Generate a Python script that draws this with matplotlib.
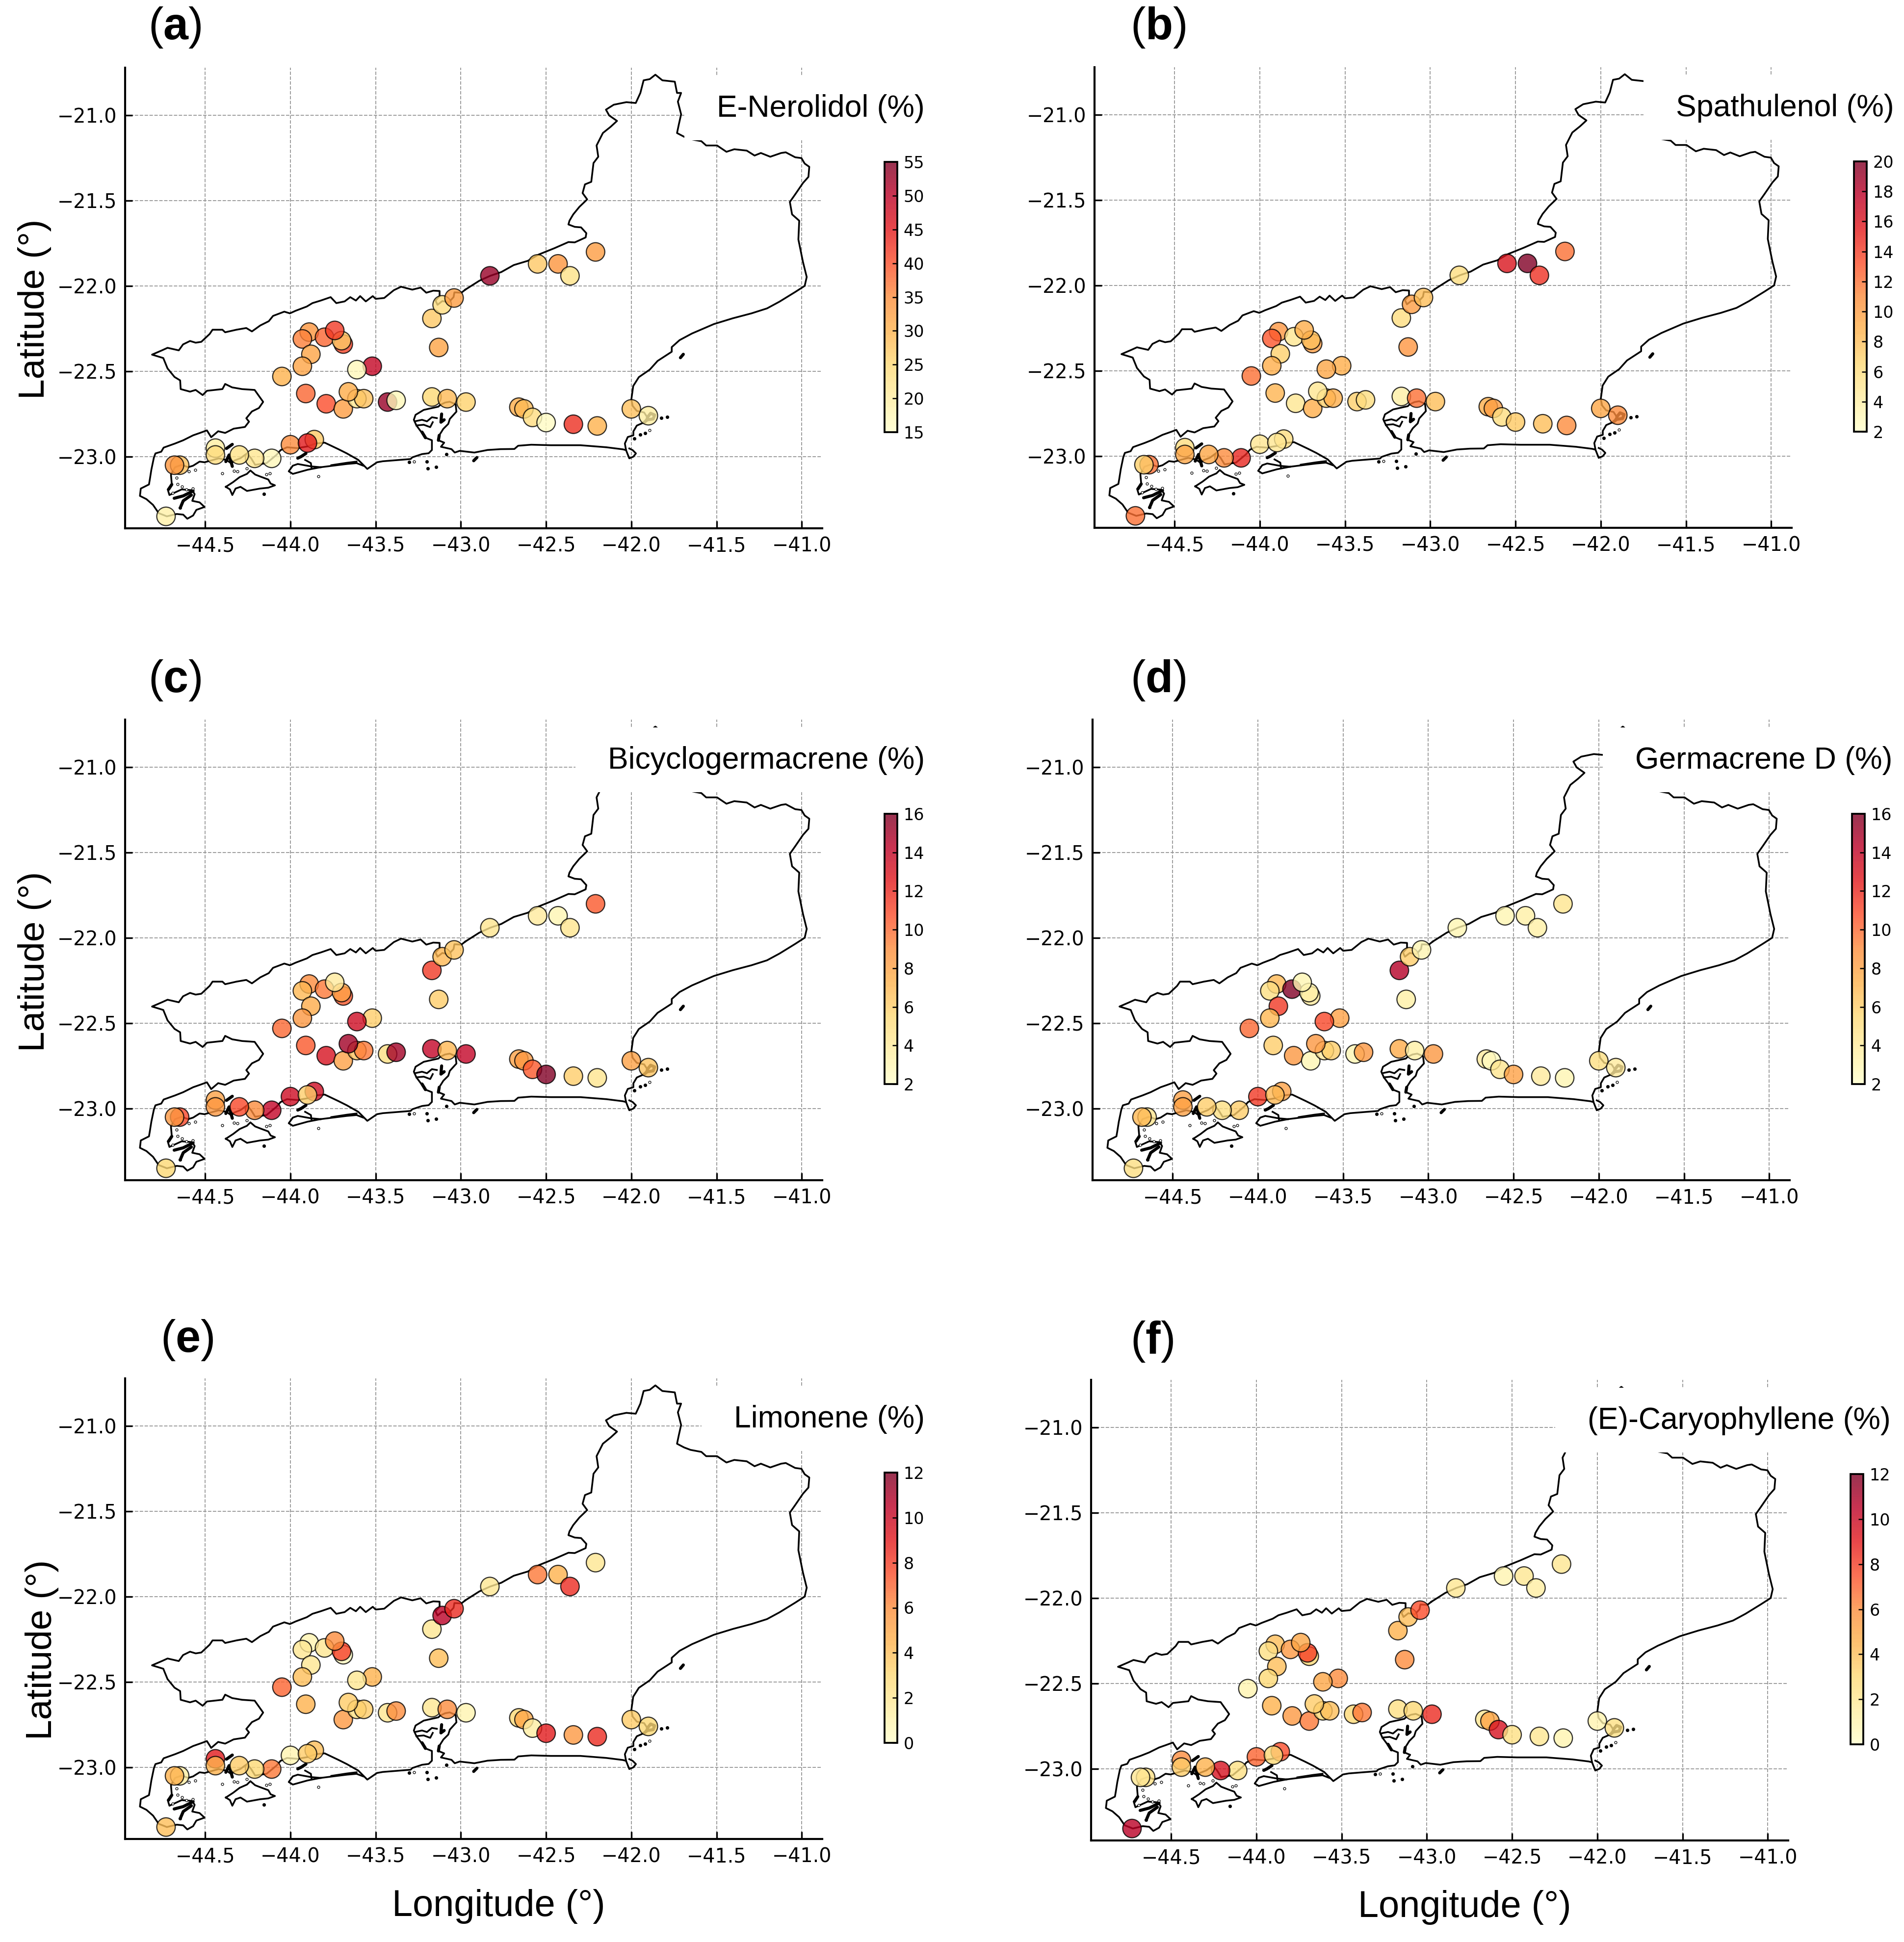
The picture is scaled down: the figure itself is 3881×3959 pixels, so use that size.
import numpy as np
import matplotlib
matplotlib.use("Agg")
import matplotlib.pyplot as plt
from matplotlib.patches import Rectangle
from matplotlib.transforms import IdentityTransform

W, H = 3881, 3959

plt.rcParams['mathtext.fontset'] = 'custom'
plt.rcParams['mathtext.rm'] = 'Liberation Sans'
plt.rcParams['mathtext.bf'] = 'Liberation Sans:bold'

# sampling sites
site_lon = [-42.83, -42.55, -42.43, -42.36, -42.21, -43.04, -43.11, -43.17, -43.13, -43.74,
            -43.89, -43.93, -43.80, -43.70, -43.69, -43.88, -43.93, -44.05, -43.61, -43.52,
            -43.91, -43.79, -43.69, -43.66, -43.61, -43.57, -43.43, -43.38, -43.17, -43.08,
            -42.97, -42.66, -42.63, -42.58, -42.50, -42.34, -42.20, -42.00, -41.90, -43.86,
            -43.90, -44.00, -44.11, -44.21, -44.30, -44.44, -44.44, -44.65, -44.68, -44.73]
site_lat = [-21.94, -21.87, -21.87, -21.94, -21.80, -22.07, -22.11, -22.19, -22.36, -22.26,
            -22.27, -22.31, -22.30, -22.32, -22.34, -22.40, -22.47, -22.53, -22.49, -22.47,
            -22.63, -22.69, -22.72, -22.62, -22.66, -22.66, -22.68, -22.67, -22.65, -22.66,
            -22.68, -22.71, -22.72, -22.77, -22.80, -22.81, -22.82, -22.72, -22.76, -22.90,
            -22.92, -22.93, -23.01, -23.01, -22.99, -22.95, -22.99, -23.05, -23.05, -23.35]

nerolidol = [53, 27, 34, 23, 33, 33, 24, 27, 32, 42,
             34, 36, 38, 27, 41, 32, 32, 30, 17, 49,
             38, 40, 33, 31, 22, 28, 53, 17, 25, 29,
             26, 31, 29, 24, 16, 43, 30, 28, 20, 27,
             45, 35, 17, 22, 23, 20, 24, 28, 34, 19]
spathulenol = [6, 16, 20, 14.5, 12, 8, 10, 6, 10.5, 9,
               10.5, 13, 5, 8, 10, 7, 9, 12, 9.5, 9,
               8.5, 5, 9, 5, 7, 9, 7, 6, 4, 12,
               8, 9, 10, 6, 7.5, 8, 11, 9.5, 11, 6,
               5, 5, 15, 11, 9.5, 6, 9.5, 12, 7, 12]
bicyclogermacrene = [4.5, 4, 3, 4.5, 10.5, 6.5, 7, 11.5, 6, 4,
                     9, 7, 9.5, 8, 10.5, 7.5, 8.5, 10, 13.5, 6,
                     10.5, 13, 8, 15, 6.5, 9.5, 5, 15, 14, 7,
                     14, 8, 8.5, 10.5, 16, 6, 4.5, 8, 6.5, 13.5,
                     6, 13.5, 14, 9, 11, 8, 8.5, 11, 8.5, 5.5]
germacrene_d = [3, 3, 3.5, 3.5, 4.5, 3, 6, 14.5, 3.5, 3,
                7, 5, 16, 3.5, 4, 11.5, 7, 10, 11, 8,
                6, 8.5, 3, 8.5, 4, 6, 3, 8.5, 7.5, 3.5,
                8.5, 4, 2.5, 4.5, 8, 4, 3, 5, 4, 8,
                7, 11.5, 6, 5, 6, 8, 8, 4.5, 7, 5]
limonene = [2, 6.5, 4.5, 8.5, 2, 8.5, 10.5, 2, 4, 6,
            1, 2, 2, 8, 0.5, 2, 4, 7, 2, 4.5,
            4.5, np.nan, 5.5, 3.5, 2.5, 3.5, 2, 6, 2, 6,
            1, 3, 5, 1.5, 9, 5.5, 8.5, 3.5, 3, 4,
            3.5, 1, 6.5, 3, 3.5, 9, 4.5, 1.5, 4.5, 4]
caryophyllene = [2, 1, 2, 1.5, 2, 7.5, 4, 4.5, 6, 5,
                 4, 2.5, 5.5, 8, 3, 4, 3, 1, 5, 6,
                 4.5, 5.5, 6.5, 3.5, 3, 4, 3, 6.5, 2.5, 3,
                 8.5, 2, 5, 9.5, 2.5, 2, 1, 1, 2.5, 7.5,
                 3, 7, 2.5, 9.5, 4.5, 6, 3.5, 2.5, 2, 10.5]

# sites are painted in this order, later ones on top (1-based)
draw_order = [1, 2, 3, 4, 5, 8, 7, 6, 9, 11, 12, 13, 15, 14, 10, 16, 17, 18, 20, 19,
              21, 22, 23, 25, 26, 24, 27, 28, 29, 30, 31, 32, 33, 34, 35, 36, 37, 38, 39, 40,
              42, 41, 43, 44, 45, 46, 47, 48, 49, 50]

# state outline, in three stretches
ne_lon = [-42.974, -42.892, -42.828, -42.763, -42.690, -42.607, -42.543, -42.451, -42.369, -42.332,
          -42.268, -42.264, -42.295, -42.332, -42.369, -42.363, -42.341, -42.305, -42.259, -42.286,
          -42.272, -42.235, -42.228, -42.222, -42.194, -42.204, -42.167, -42.121, -42.084, -42.130,
          -42.149, -42.103, -42.029, -41.974, -41.947, -41.928, -41.892, -41.859, -41.818, -41.745,
          -41.732, -41.708, -41.727, -41.708, -41.721, -41.732, -41.690, -41.653, -41.589, -41.561,
          -41.497, -41.442, -41.396, -41.323, -41.277, -41.240, -41.185, -41.121, -41.094, -41.039,
          -41.002, -40.983, -40.956, -40.961, -40.993, -41.039, -41.070, -41.057, -41.015, -41.020,
          -40.993, -40.971, -40.983, -41.039, -41.130, -41.204, -41.295, -41.405, -41.516, -41.644,
          -41.717, -41.763, -41.763, -41.846, -41.892, -41.956, -41.989, -42.000, -41.992, -41.968,
          -41.925, -41.906, -41.925, -41.968, -41.988, -41.988, -42.021, -42.038, -42.031, -42.050,
          -42.146, -42.299, -42.472, -42.587, -42.664]
ne_lat = [-22.021, -21.969, -21.940, -21.918, -21.877, -21.852, -21.815, -21.778, -21.742, -21.744,
          -21.715, -21.690, -21.656, -21.653, -21.639, -21.617, -21.580, -21.536, -21.492, -21.455,
          -21.404, -21.389, -21.330, -21.279, -21.242, -21.176, -21.103, -21.066, -21.032, -21.000,
          -20.966, -20.937, -20.922, -20.927, -20.868, -20.794, -20.787, -20.761, -20.794, -20.802,
          -20.868, -20.868, -20.919, -20.993, -21.051, -21.103, -21.125, -21.139, -21.151, -21.176,
          -21.176, -21.213, -21.198, -21.206, -21.235, -21.220, -21.242, -21.220, -21.216, -21.245,
          -21.250, -21.282, -21.301, -21.360, -21.396, -21.463, -21.507, -21.580, -21.617, -21.727,
          -21.859, -21.947, -21.999, -22.035, -22.091, -22.131, -22.160, -22.189, -22.223, -22.278,
          -22.317, -22.358, -22.385, -22.439, -22.490, -22.534, -22.586, -22.665, -22.703, -22.732,
          -22.741, -22.770, -22.799, -22.818, -22.852, -22.875, -22.885, -22.923, -22.962, -22.957,
          -22.945, -22.933, -22.933, -22.930, -22.936]
south_lon = [-42.686, -42.767, -42.844, -42.921, -43.007, -43.036, -43.055, -43.117, -43.098, -43.132,
             -43.127, -43.103, -43.074, -43.065, -43.026, -43.031, -43.065, -43.093, -43.122, -43.132,
             -43.218, -43.266, -43.276, -43.261, -43.232, -43.208, -43.170, -43.170, -43.170, -43.189,
             -43.228, -43.285, -43.295, -43.458, -43.492, -43.549, -43.602, -43.669, -43.717, -43.799,
             -43.852, -43.900, -43.960, -44.020, -44.058, -44.082, -44.140, -44.207, -44.231, -44.255,
             -44.293, -44.331, -44.346, -44.375, -44.420, -44.504, -44.533, -44.571, -44.600, -44.638,
             -44.677, -44.701, -44.696, -44.720, -44.710, -44.677, -44.638, -44.576, -44.562, -44.576,
             -44.533, -44.504, -44.552, -44.571, -44.605, -44.629, -44.667, -44.725, -44.773, -44.806,
             -44.845, -44.883, -44.878, -44.830, -44.825, -44.816, -44.801, -44.792, -44.758, -44.744,
             -44.677, -44.629, -44.571]
south_lat = [-22.955, -22.956, -22.961, -22.976, -22.966, -22.976, -22.956, -22.942, -22.918, -22.904,
             -22.875, -22.837, -22.808, -22.779, -22.736, -22.693, -22.678, -22.683, -22.697, -22.707,
             -22.726, -22.755, -22.784, -22.817, -22.856, -22.889, -22.904, -22.942, -22.961, -22.980,
             -22.985, -23.004, -23.014, -23.027, -23.033, -23.072, -23.019, -22.981, -22.957, -22.918,
             -22.923, -22.940, -22.950, -22.945, -22.962, -22.990, -23.038, -23.048, -23.009, -22.981,
             -23.009, -23.024, -23.040, -23.020, -23.010, -23.033, -23.029, -23.053, -23.062, -23.048,
             -23.062, -23.105, -23.163, -23.192, -23.225, -23.210, -23.192, -23.197, -23.220, -23.259,
             -23.268, -23.295, -23.312, -23.345, -23.364, -23.340, -23.336, -23.350, -23.331, -23.283,
             -23.249, -23.230, -23.187, -23.163, -23.134, -23.077, -23.005, -22.981, -22.971, -22.947,
             -22.923, -22.904, -22.875]
west_lon = [-44.531, -44.490, -44.465, -44.424, -44.383, -44.333, -44.267,
            -44.243, -44.259, -44.226, -44.185, -44.160, -44.185, -44.210, -44.284, -44.342, -44.383,
            -44.399, -44.490, -44.515, -44.556, -44.589, -44.644, -44.647, -44.680, -44.721, -44.746,
            -44.812, -44.754, -44.721, -44.655, -44.630, -44.589, -44.556, -44.523, -44.474, -44.457,
            -44.399, -44.383, -44.317, -44.259, -44.226, -44.177, -44.127, -44.102, -44.036, -44.003,
            -43.970, -43.904, -43.871, -43.822, -43.764, -43.731, -43.682, -43.649, -43.616, -43.591,
            -43.558, -43.517, -43.500, -43.450, -43.393, -43.351, -43.285, -43.236, -43.203, -43.162,
            -43.125, -43.125, -43.149, -43.137, -43.109, -43.071, -43.043, -43.038, -42.997, -42.974]
west_lat = [-22.861, -22.846, -22.886, -22.851, -22.861, -22.836, -22.826,
            -22.795, -22.775, -22.735, -22.715, -22.679, -22.644, -22.609, -22.604, -22.594, -22.574,
            -22.604, -22.614, -22.639, -22.609, -22.619, -22.604, -22.553, -22.533, -22.483, -22.422,
            -22.402, -22.377, -22.362, -22.377, -22.342, -22.322, -22.332, -22.327, -22.281, -22.256,
            -22.256, -22.271, -22.256, -22.246, -22.266, -22.231, -22.206, -22.175, -22.150, -22.160,
            -22.145, -22.120, -22.100, -22.085, -22.065, -22.100, -22.090, -22.065, -22.085, -22.059,
            -22.090, -22.059, -22.075, -22.070, -22.024, -22.004, -22.021, -22.009, -22.039, -22.027,
            -22.029, -22.059, -22.085, -22.110, -22.088, -22.095, -22.065, -22.037, -22.039, -22.021]

# smaller coast pieces: restinga, Ilha Grande, lagoon
coast_pieces = [
    ([-43.573, -43.612, -43.669, -43.823, -43.900, -43.986, -44.010, -43.986, -43.957, -43.880, -43.823],
     [-23.053, -23.038, -23.043, -23.062, -23.077, -23.101, -23.086, -23.053, -23.043, -23.057, -23.062]),
    ([-43.914, -43.880, -43.876], [-23.019, -23.038, -23.067]),
    ([-43.612, -43.669, -43.760], [-23.029, -23.036, -23.050]),
    ([-44.379, -44.336, -44.298, -44.255, -44.235, -44.207, -44.168, -44.130, -44.116, -44.091, -44.130,
      -44.178, -44.255, -44.293, -44.322, -44.341, -44.355, -44.379],
     [-23.177, -23.149, -23.120, -23.101, -23.081, -23.105, -23.120, -23.134, -23.158, -23.168, -23.182,
      -23.187, -23.201, -23.177, -23.187, -23.225, -23.192, -23.177]),
    ([-42.031, -42.012, -41.988, -41.973, -41.992, -42.012], [-22.962, -23.010, -23.000, -22.981, -22.962, -22.952]),
    ([-43.271, -43.228, -43.199, -43.170, -43.141], [-22.793, -22.784, -22.793, -22.769, -22.774]),
    ([-43.261, -43.218, -43.180, -43.165], [-22.817, -22.813, -22.827, -22.798]),
]
# the denser, blotchy bits of the coast, drawn heavier
thick_pieces = [
    ([-44.682, -44.629, -44.571], [-23.244, -23.230, -23.201]),
    ([-44.643, -44.629, -44.581], [-23.292, -23.259, -23.225]),
    ([-44.715, -44.696], [-23.192, -23.163]),
    ([-43.228, -43.208], [-22.856, -22.889]),
    ([-43.127, -43.132], [-22.875, -22.904]),
    ([-43.113, -43.117, -43.098], [-22.750, -22.798, -22.784]),
    ([-44.375, -44.341], [-22.952, -22.928]),
    ([-44.379, -44.360, -44.341], [-23.029, -22.990, -23.057]),
    ([-43.957, -43.938, -43.909], [-23.009, -23.000, -22.981]),
    ([-42.925, -42.906], [-23.024, -23.005]),
    ([-41.906, -41.887, -41.863, -41.872, -41.906, -41.925], [-22.770, -22.746, -22.756, -22.779, -22.784, -22.799]),
    ([-41.712, -41.695], [-22.420, -22.400]),
]
blob_lon = [-43.304, -43.199, -43.194, -43.146, -43.084, -44.156, -41.824, -41.789, -41.983, -41.949, -41.920, -44.647]
blob_lat = [-23.033, -23.028, -23.069, -23.062, -22.985, -23.220, -22.773, -22.768, -22.895, -22.871, -22.861, -23.299]
ring_lon = [-43.837, -44.399, -44.331, -44.312, -44.255, -44.141, -44.120, -43.276, -44.595, -44.557,
            -44.667, -44.662, -44.635, -44.609, -44.574, -44.691, -41.892]
ring_lat = [-23.115, -23.099, -23.084, -23.086, -23.069, -23.105, -23.098, -23.028, -23.086, -23.077,
            -23.125, -23.161, -23.175, -23.194, -23.187, -23.213, -22.845]

lon_ticks = [-44.5, -44.0, -43.5, -43.0, -42.5, -42.0, -41.5, -41.0]
lat_ticks = [-21.0, -21.5, -22.0, -22.5, -23.0]

titles = ["E-Nerolidol (%)", "Spathulenol (%)", "Bicyclogermacrene (%)",
          "Germacrene D (%)", "Limonene (%)", "(E)-Caryophyllene (%)"]
letters = ["a", "b", "c", "d", "e", "f"]
values = [nerolidol, spathulenol, bicyclogermacrene, germacrene_d, limonene, caryophyllene]
cbar_ticks = [list(range(15, 56, 5)), list(range(2, 21, 2)), list(range(2, 17, 2)),
              list(range(2, 17, 2)), list(range(0, 13, 2)), list(range(0, 13, 2))]
# axes left / bottom edge in pixels from the top left corner
ax_left = [255, 2231, 255, 2227, 255, 2224]
ax_bottom = [1077, 1076, 2406, 2406, 3749, 3752]
letter_x = [302, 2304, 302, 2304, 327, 2304]
letter_y = [56, 56, 1387, 1387, 2732, 2735]
AX_W, AX_H = 1421, 939

fig = plt.figure(figsize=(W / 300, H / 300), dpi=300)
order = np.array(draw_order) - 1
lon = np.array(site_lon)[order]
lat = np.array(site_lat)[order]
border_lon = ne_lon + south_lon + west_lon
border_lat = ne_lat + south_lat + west_lat

for i in range(6):
    ax = fig.add_axes([ax_left[i] / W, 1 - ax_bottom[i] / H, AX_W / W, AX_H / H])
    ax.set_xlim(-44.97, -40.88)
    ax.set_ylim(-23.42, -20.72)
    ax.set_xticks(lon_ticks)
    ax.set_yticks(lat_ticks)
    ax.tick_params(direction='in', length=3.5, width=0.8, labelsize=9.5, pad=4)
    ax.grid(True, ls='--', lw=0.45, color='#999999', zorder=0)
    ax.set_axisbelow(True)
    for s in ['top', 'right']:
        ax.spines[s].set_visible(False)
    for s in ['left', 'bottom']:
        ax.spines[s].set_linewidth(1.0)

    ax.plot(border_lon, border_lat, color='k', lw=0.85, zorder=2, solid_joinstyle='round')
    for plon, plat in coast_pieces:
        ax.plot(plon, plat, color='k', lw=0.85, zorder=2, solid_joinstyle='round')
    for plon, plat in thick_pieces:
        ax.plot(plon, plat, color='k', lw=1.5, zorder=2, solid_capstyle='round', solid_joinstyle='round')
    ax.plot(blob_lon, blob_lat, ls='none', marker='o', ms=1.5, mfc='k', mec='k', mew=0.2, zorder=2)
    ax.plot(ring_lon, ring_lat, ls='none', marker='o', ms=1.2, mfc='white', mec='k', mew=0.3, zorder=2)

    vals = np.array(values[i], dtype=float)[order]
    ticks = cbar_ticks[i]
    sc = ax.scatter(lon, lat, c=vals, s=82, cmap='YlOrRd', vmin=ticks[0], vmax=ticks[-1],
                    alpha=0.8, edgecolors='k', linewidths=0.55, zorder=3)

    cax = fig.add_axes([(ax_left[i] + 1548) / W, 1 - (ax_bottom[i] - 196) / H, 26 / W, 551 / H])
    cb = fig.colorbar(sc, cax=cax)
    cb.set_ticks(ticks)
    cb.ax.tick_params(direction='in', length=2.5, width=0.6, labelsize=8, pad=3)
    cb.outline.set_linewidth(0.9)

    # white box behind the title covers grid and outline
    t = ax.text(1.147, 0.911, titles[i], transform=ax.transAxes, ha='right', va='center',
                fontsize=15, family='Liberation Sans', zorder=6, clip_on=False)
    bb = t.get_window_extent(fig.canvas.get_renderer())
    ymid = (bb.y0 + bb.y1) / 2
    box = Rectangle((bb.x0 - 66, ymid - 64), bb.width + 96, 132, transform=IdentityTransform(),
                    fc='white', ec='none', zorder=5)
    ax.add_artist(box)
    box.set_clip_on(False)

    fig.text(letter_x[i] / W, 1 - letter_y[i] / H, r"($\mathbf{%s}$)" % letters[i], fontsize=22,
             family='Liberation Sans', ha='left', va='center')

for x, y in [(71, 630), (71, 1960), (86, 3363)]:
    fig.text(x / W, 1 - y / H, "Latitude (°)", rotation=90, fontsize=18,
             family='Liberation Sans', ha='center', va='center')
for x, y in [(1016, 3887), (2985, 3889)]:
    fig.text(x / W, 1 - y / H, "Longitude (°)", fontsize=18.2,
             family='Liberation Sans', ha='center', va='center')

fig.savefig("out.png", dpi=300, facecolor='white')
